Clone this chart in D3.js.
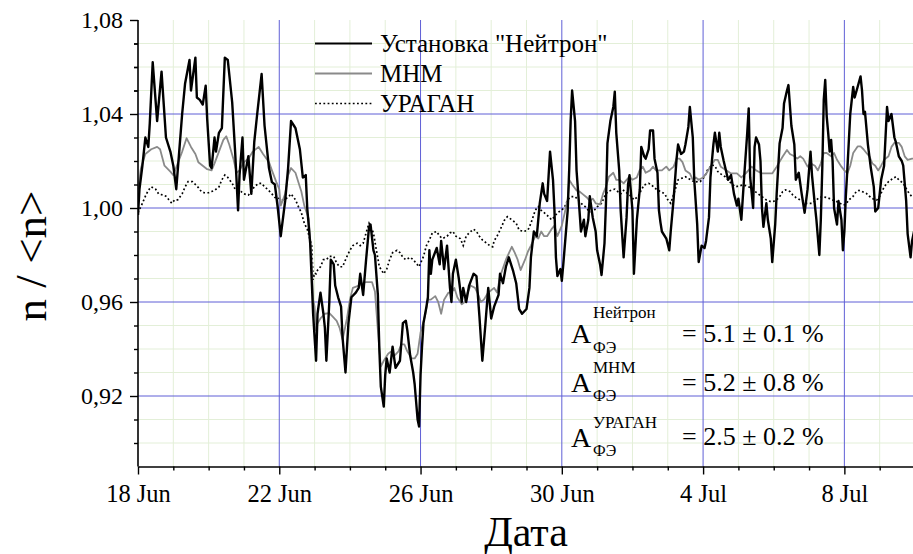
<!DOCTYPE html>
<html>
<head>
<meta charset="utf-8">
<script src="https://cdn.jsdelivr.net/npm/d3@7"></script>
<style>
  body { margin: 0; background: #fff; }
  svg { display: block; }
  text { font-family: "Liberation Serif", "Times New Roman", serif; fill: #000; }
</style>
</head>
<body>
<svg id="chart" width="913" height="554"></svg>
<script>
// Relative count rate n/<n>; each point is [hours since 18 Jun 00:00 UT, value]
const neutron = [
  [0,0.997],[1,1.008],[3,1.018],[5,1.030],[7,1.026],[8,1.036],[10,1.062],[13,1.037],[16,1.058],[19,1.030],
  [22,1.024],[24,1.018],[26,1.008],[28,1.024],[30,1.040],[32,1.053],[35,1.063],[36,1.050],[39,1.064],[40,1.047],
  [42,1.046],[44,1.044],[46,1.052],[47,1.038],[49,1.018],[50,1.017],[52,1.030],[53,1.024],[55,1.032],[57,1.034],
  [59,1.064],[61,1.063],[64,1.045],[66,1.024],[68,0.999],[69,1.014],[71,1.030],[72,1.012],[75,1.022],[77,1.006],
  [79,1.028],[81,1.040],[84,1.057],[86,1.035],[89,1.017],[91,1.011],[93,1.010],[95,1.000],[97,0.988],[100,1.003],
  [102,1.017],[104,1.037],[106,1.035],[107,1.034],[110,1.025],[112,1.013],[114,1.014],[115,1.000],[117,0.985],[119,0.955],
  [121,0.935],[122,0.955],[124,0.964],[126,0.955],[127,0.949],[128,0.935],[130,0.960],[131,0.978],[133,0.976],[134,0.967],
  [136,0.962],[138,0.958],[139,0.945],[141,0.930],[143,0.951],[145,0.962],[148,0.964],[150,0.966],[151,0.972],[153,0.963],
  [155,0.978],[157,0.992],[158,0.993],[160,0.982],[161,0.980],[163,0.963],[164,0.940],[165,0.924],[167,0.9155],[168,0.929],
  [169,0.936],[171,0.930],[173,0.941],[175,0.932],[178,0.935],[180,0.951],[182,0.952],[183,0.948],[185,0.937],[187,0.930],
  [188,0.925],[190,0.910],[191,0.907],[192,0.929],[193,0.941],[194,0.951],[196,0.958],[197,0.962],[198,0.982],[199,0.972],
  [200,0.978],[203,0.983],[205,0.976],[206,0.986],[208,0.974],[210,0.984],[212,0.966],[213,0.960],[214,0.972],[216,0.978],
  [218,0.970],[220,0.960],[221,0.966],[223,0.960],[225,0.967],[228,0.972],[230,0.971],[232,0.954],[234,0.935],[236,0.950],
  [238,0.966],[240,0.953],[242,0.958],[245,0.963],[246,0.972],[248,0.968],[250,0.975],[252,0.979],[255,0.973],[257,0.968],
  [259,0.957],[261,0.955],[264,0.957],[266,0.966],[267,0.979],[269,0.990],[271,0.988],[273,1.002],[275,1.0105],[276,1.006],
  [278,1.003],[280,1.024],[282,1.012],[283,0.999],[284,0.979],[285,0.971],[287,0.974],[288,0.969],[289,0.976],[292,0.999],
  [293,1.016],[294,1.037],[295,1.050],[297,1.037],[298,1.016],[300,0.999],[301,0.990],[303,0.995],[304,0.988],[306,0.995],
  [307,1.005],[309,0.996],[311,0.990],[312,0.982],[314,0.976],[315,0.9715],[317,0.985],[318,1.002],[319,1.0275],[321,1.037],
  [323,1.043],[324,1.0495],[325,1.032],[327,1.016],[328,0.999],[330,0.979],[332,0.996],[333,1.010],[334,1.014],[336,0.999],
  [337,0.972],[339,0.995],[341,1.008],[342,1.026],[344,1.022],[345,1.021],[347,1.025],[348,1.033],[350,1.033],[351,1.021],
  [353,1.015],[354,0.999],[355,0.994],[356,0.990],[359,0.987],[361,0.982],[362,0.990],[364,1.004],[366,1.021],[367,1.027],
  [369,1.023],[371,1.024],[372,1.027],[374,1.0345],[375,1.043],[377,1.030],[378,1.012],[380,0.993],[381,0.977],[383,0.984],
  [385,0.983],[386,0.986],[388,0.996],[389,1.013],[391,1.027],[392,1.032],[394,1.024],[395,1.032],[396,1.026],[398,1.020],
  [401,1.012],[403,1.014],[405,1.006],[407,1.001],[408,1.004],[410,0.995],[412,1.014],[414,1.032],[415,1.0424],[416,1.013],
  [418,1.000],[419,1.026],[420,1.030],[422,1.027],[423,1.020],[424,1.000],[425,0.992],[427,1.002],[428,0.995],[430,0.987],
  [431,0.977],[433,0.993],[434,1.006],[436,1.0275],[438,1.034],[439,1.0445],[441,1.050],[442,1.0523],[444,1.035],[446,1.027],
  [447,1.012],[449,1.015],[451,1.006],[453,0.998],[455,1.008],[457,1.024],[458,1.014],[460,1.001],[461,0.995],[463,0.980],
  [464,0.995],[465,1.017],[466,1.046],[467,1.0545],[468,1.039],[469,1.032],[470,1.024],[471,1.029],[472,1.020],[473,1.000],
  [475,0.993],[476,1.003],[478,0.995],[479,0.982],[480,0.990],[481,1.005],[482,1.016],[484,1.040],[486,1.0515],[487,1.047],
  [489,1.0515],[491,1.056],[492,1.050],[493,1.040],[494,1.041],[496,1.027],[498,1.017],[500,1.009],[501,0.9985],[503,1.000],
  [505,1.012],[507,1.018],[509,1.043],[510,1.037],[512,1.040],[514,1.030],[515,1.028],[517,1.022],[519,1.020],[520,1.018],
  [522,1.003],[523,0.989],[525,0.979],[526,0.986],[528,0.992]
];

const mnm = [
  [0,1.008],[2,1.017],[5,1.023],[9,1.025],[13,1.026],[15,1.025],[18,1.018],[22,1.0155],[24,1.014],[27,1.019],
  [30,1.024],[33,1.0297],[36,1.026],[39,1.023],[41,1.0195],[44,1.018],[47,1.0165],[50,1.016],[52,1.019],[55,1.024],
  [58,1.029],[60,1.0305],[62,1.027],[65,1.0205],[67,1.015],[69,1.016],[72,1.0195],[75,1.021],[78,1.024],[82,1.026],
  [85,1.023],[89,1.0195],[91,1.016],[94,1.011],[96,1.008],[97,1.001],[100,1.006],[102,1.014],[104,1.017],[107,1.015],
  [109,1.011],[111,1.007],[113,1.001],[116,0.9955],[118,0.978],[119,0.961],[120,0.958],[121,0.948],[122,0.951],[124,0.953],
  [127,0.955],[130,0.9553],[132,0.954],[135,0.952],[137,0.949],[139,0.944],[142,0.953],[144,0.961],[146,0.966],[150,0.967],
  [153,0.968],[155,0.9685],[159,0.9685],[161,0.9645],[163,0.948],[165,0.9325],[167,0.935],[170,0.938],[172,0.939],[174,0.937],
  [177,0.939],[179,0.942],[181,0.942],[183,0.939],[186,0.936],[188,0.936],[190,0.938],[192,0.947],[195,0.954],[197,0.961],
  [199,0.961],[202,0.9625],[204,0.960],[206,0.955],[208,0.961],[211,0.964],[213,0.964],[215,0.966],[217,0.962],[220,0.959],
  [222,0.960],[224,0.964],[226,0.967],[229,0.966],[231,0.9635],[233,0.960],[235,0.961],[238,0.964],[240,0.965],[242,0.966],
  [244,0.964],[246,0.9708],[250,0.978],[254,0.9835],[256,0.981],[258,0.978],[260,0.9736],[263,0.978],[265,0.9815],[267,0.984],
  [270,0.988],[272,0.987],[274,0.990],[276,0.988],[278,0.988],[281,0.991],[283,0.9925],[285,0.988],[288,0.9925],[290,0.998],
  [292,1.004],[293,1.012],[295,1.010],[298,1.0075],[300,1.007],[302,1.006],[305,1.0045],[307,1.003],[309,1.004],[311,1.002],
  [314,1.0015],[316,1.006],[318,1.009],[320,1.0133],[323,1.015],[325,1.012],[327,1.012],[330,1.0105],[332,1.012],[334,1.0133],
  [336,1.012],[339,1.013],[341,1.0162],[343,1.0176],[345,1.015],[348,1.016],[350,1.0176],[352,1.016],[354,1.016],[356,1.016],
  [359,1.0176],[361,1.016],[364,1.0176],[366,1.021],[368,1.021],[370,1.0195],[372,1.016],[375,1.0147],[377,1.012],[379,1.013],
  [381,1.012],[384,1.013],[386,1.0145],[389,1.0176],[392,1.0205],[394,1.0205],[396,1.0176],[400,1.016],[403,1.0147],[407,1.0147],
  [410,1.013],[413,1.0147],[417,1.0176],[420,1.016],[424,1.0147],[427,1.0147],[431,1.0147],[434,1.0176],[438,1.0218],[441,1.0247],
  [443,1.023],[446,1.022],[448,1.021],[450,1.022],[452,1.021],[455,1.0176],[457,1.019],[460,1.018],[462,1.016],[464,1.019],
  [466,1.0234],[468,1.0234],[471,1.022],[473,1.0234],[475,1.0205],[478,1.0176],[480,1.016],[482,1.0147],[484,1.018],[486,1.0234],
  [489,1.0262],[491,1.0262],[493,1.025],[495,1.0234],[497,1.022],[499,1.019],[501,1.018],[503,1.016],[505,1.018],[507,1.0205],
  [510,1.022],[512,1.026],[514,1.0277],[517,1.0277],[519,1.026],[521,1.022],[523,1.0205],[526,1.021],[528,1.021]
];

const uragan = [
  [0,0.998],[3,1.002],[5,1.005],[7,1.0075],[9,1.009],[12,1.008],[14,1.006],[17,1.0055],[19,1.005],[21,1.0035],
  [23,1.002],[25,1.0035],[27,1.0035],[30,1.006],[32,1.009],[34,1.0112],[37,1.0112],[39,1.010],[41,1.0087],[43,1.007],
  [45,1.0065],[48,1.0065],[50,1.007],[52,1.0075],[55,1.009],[57,1.012],[59,1.014],[61,1.013],[64,1.0105],[66,1.008],
  [68,1.007],[70,1.007],[72,1.006],[75,1.0055],[77,1.007],[79,1.009],[82,1.0105],[84,1.0105],[86,1.009],[88,1.008],
  [91,1.006],[93,1.0045],[95,1.0045],[97,1.0035],[99,1.0035],[102,1.0045],[104,1.006],[107,1.0035],[109,1.0006],[111,0.998],
  [113,0.9935],[115,0.991],[118,0.984],[119,0.9694],[120,0.9723],[121,0.972],[122,0.9735],[124,0.975],[126,0.978],[128,0.978],
  [130,0.9794],[133,0.9794],[135,0.9765],[137,0.975],[139,0.975],[142,0.9794],[144,0.982],[146,0.984],[149,0.985],[151,0.984],
  [153,0.985],[155,0.9894],[157,0.9935],[160,0.9894],[162,0.982],[164,0.975],[167,0.972],[169,0.974],[171,0.978],[173,0.981],
  [176,0.982],[178,0.981],[180,0.979],[182,0.978],[185,0.979],[187,0.978],[189,0.9765],[191,0.975],[194,0.9794],[196,0.984],
  [198,0.9864],[200,0.9894],[203,0.990],[205,0.988],[207,0.987],[210,0.988],[212,0.9894],[214,0.990],[216,0.988],[219,0.987],
  [221,0.984],[223,0.988],[225,0.9894],[228,0.991],[230,0.990],[232,0.988],[234,0.9864],[237,0.985],[239,0.984],[241,0.9835],
  [242,0.986],[244,0.988],[246,0.9906],[249,0.9948],[251,0.9963],[254,0.995],[257,0.9935],[259,0.9906],[262,0.990],[265,0.9906],
  [267,0.9935],[270,0.9991],[272,1.0006],[274,0.999],[276,0.998],[279,0.9963],[281,0.995],[283,0.9963],[285,0.998],[288,0.9991],
  [290,1.0006],[292,1.0035],[294,1.0048],[297,1.0048],[299,1.0035],[301,1.002],[304,1.0005],[306,0.999],[308,0.9984],[310,0.999],
  [312,1.0005],[315,1.002],[317,1.0048],[319,1.0069],[322,1.0077],[324,1.008],[326,1.007],[328,1.006],[330,1.0075],[333,1.006],
  [335,1.005],[337,1.0035],[340,1.005],[342,1.0077],[344,1.0098],[347,1.0105],[349,1.0098],[351,1.0085],[353,1.0077],[355,1.007],
  [358,1.006],[360,1.0035],[362,1.002],[365,1.0077],[367,1.012],[369,1.0125],[372,1.0133],[374,1.0125],[376,1.012],[378,1.011],
  [380,1.0112],[382,1.0112],[385,1.0133],[387,1.0162],[390,1.0183],[392,1.018],[394,1.0155],[396,1.0145],[399,1.0133],[402,1.0112],
  [404,1.010],[406,1.009],[409,1.0095],[411,1.0098],[413,1.0095],[415,1.009],[418,1.0077],[421,1.0062],[424,1.0048],[427,1.0034],
  [430,1.0027],[433,1.003],[436,1.0048],[438,1.0069],[440,1.0077],[443,1.007],[445,1.0055],[447,1.0045],[450,1.0034],[452,1.003],
  [454,1.002],[458,1.002],[461,1.0034],[463,1.0045],[465,1.0048],[468,1.0045],[470,1.004],[472,1.0034],[474,1.003],[477,1.002],
  [479,1.0013],[481,1.0015],[483,1.0034],[486,1.005],[488,1.0069],[490,1.0075],[492,1.007],[495,1.0062],[497,1.005],[499,1.004],
  [502,1.0034],[504,1.005],[506,1.0077],[508,1.0098],[510,1.0112],[513,1.0126],[515,1.0133],[517,1.012],[520,1.0105],[522,1.0083],
  [524,1.0062],[526,1.0048],[528,1.0045]
];

const yTickValues = [0.92, 0.96, 1.00, 1.04, 1.08];
const xTickLabels = ["2009-06-18", "2009-06-22", "2009-06-26", "2009-06-30", "2009-07-04", "2009-07-08"];
const legendLabels = ['Установка "Нейтрон"', "МНМ", "УРАГАН"];
const amplitudeNames = ["Нейтрон", "МНМ", "УРАГАН"];
const amplitudeValues = [5.1, 5.2, 2.5];
const amplitudeErrors = [0.1, 0.8, 0.2];

const startDate = new Date(Date.UTC(2009, 5, 18));
const endDate = new Date(Date.UTC(2009, 6, 10));
const toDate = h => new Date(startDate.getTime() + h * 3600e3);
const parseDay = d3.utcParse("%Y-%m-%d");
const serif = '"Liberation Serif", "Times New Roman", serif';

const svg = d3.select("#chart");
const plotLeft = 138, plotTop = 20, plotBottom = 466.5, plotRight = 915, W = 913;

const x = d3.scaleUtc().domain([startDate, endDate]).range([plotLeft, plotRight]);
const y = d3.scaleLinear().domain([0.89, 1.08]).range([plotBottom, plotTop]);

svg.append("rect").attr("width", W).attr("height", 554).attr("fill", "#fff");

// minor grid: every day / every 0.01
const minorDays = d3.utcDay.range(startDate, endDate).filter(d => (d3.utcDay.count(startDate, d) % 4) !== 0);
const minorVals = d3.range(90, 108).map(v => v / 100).filter(v => Math.round(v * 100) % 4 !== 0);
const grid = svg.append("g");
grid.selectAll(".mgx").data(minorDays).join("line")
  .attr("x1", d => x(d)).attr("x2", d => x(d)).attr("y1", plotTop).attr("y2", plotBottom)
  .attr("stroke", "#e3efd8").attr("stroke-width", 1);
grid.selectAll(".mgy").data(minorVals).join("line")
  .attr("x1", plotLeft).attr("x2", W).attr("y1", d => y(d)).attr("y2", d => y(d))
  .attr("stroke", "#e3efd8").attr("stroke-width", 1);

// major grid
const majorDays = xTickLabels.map(parseDay).slice(1);
grid.selectAll(".Mgx").data(majorDays).join("line")
  .attr("x1", d => x(d)).attr("x2", d => x(d)).attr("y1", plotTop).attr("y2", plotBottom)
  .attr("stroke", "#5f5fd6").attr("stroke-width", 1);
grid.selectAll(".Mgy").data(yTickValues.filter(v => v < 1.08)).join("line")
  .attr("x1", plotLeft).attr("x2", W).attr("y1", d => y(d)).attr("y2", d => y(d))
  .attr("stroke", "#5f5fd6").attr("stroke-width", 1);

// series
svg.append("clipPath").attr("id", "plotClip").append("rect")
  .attr("x", plotLeft).attr("y", 0).attr("width", W - plotLeft).attr("height", plotBottom);
const line = d3.line().x(d => x(toDate(d[0]))).y(d => y(d[1]));
const plot = svg.append("g").attr("clip-path", "url(#plotClip)");
plot.append("path").datum(uragan).attr("d", line).attr("fill", "none")
  .attr("stroke", "#000").attr("stroke-width", 1.7).attr("stroke-dasharray", "1.8,2.4");
plot.append("path").datum(mnm).attr("d", line).attr("fill", "none")
  .attr("stroke", "#8a8a8a").attr("stroke-width", 1.8).attr("stroke-linejoin", "round");
plot.append("path").datum(neutron).attr("d", line).attr("fill", "none")
  .attr("stroke", "#000").attr("stroke-width", 2.4).attr("stroke-linejoin", "round");

// axes
const yAxis = svg.append("g").attr("transform", `translate(${plotLeft},0)`)
  .call(d3.axisLeft(y).tickValues(yTickValues).tickSize(8).tickSizeOuter(0).tickPadding(7)
    .tickFormat(d => d.toFixed(2).replace(".", ",")));
yAxis.selectAll("text").style("font-family", serif).style("font-size", "24px");
yAxis.select(".domain").attr("stroke-width", 1.6).attr("d", `M0,${plotBottom}V${plotTop}`);
yAxis.selectAll(".tick line").attr("stroke-width", 1.4);
svg.append("g").attr("transform", `translate(${plotLeft},0)`)
  .call(d3.axisLeft(y).tickValues(minorVals.concat([1.05, 1.06, 1.07])).tickSize(4).tickFormat(""))
  .call(g => g.select(".domain").remove())
  .selectAll(".tick line").attr("stroke-width", 1.4);

const xAxis = svg.append("g").attr("transform", `translate(0,${plotBottom})`)
  .call(d3.axisBottom(x).tickValues(xTickLabels.map(parseDay)).tickSize(8).tickSizeOuter(0).tickPadding(10)
    .tickFormat(d3.utcFormat("%-d %b")));
xAxis.selectAll("text").style("font-family", serif).style("font-size", "24.5px");
xAxis.select(".domain").attr("stroke-width", 1.6);
xAxis.selectAll(".tick line").attr("stroke-width", 1.4);
svg.append("g").attr("transform", `translate(0,${plotBottom})`)
  .call(d3.axisBottom(x).tickValues(minorDays).tickSize(4).tickFormat(""))
  .call(g => g.select(".domain").remove())
  .selectAll(".tick line").attr("stroke-width", 1.4);

// axis titles
svg.append("text").attr("transform", "translate(46,256) rotate(-90)")
  .attr("text-anchor", "middle").style("font-size", "45px").text("n / <n>");
svg.append("text").attr("x", 526).attr("y", 546)
  .attr("text-anchor", "middle").style("font-size", "42px").text("Дата");

// legend
const legendStyles = [
  { stroke: "#000", width: 2.2, dash: null },
  { stroke: "#8a8a8a", width: 1.8, dash: null },
  { stroke: "#000", width: 1.7, dash: "1.8,2.4" }
];
const legend = svg.append("g");
legendLabels.forEach((label, i) => {
  const by = 52 + i * 30;
  legend.append("line").attr("x1", 315).attr("x2", 372).attr("y1", by - 8.5).attr("y2", by - 8.5)
    .attr("stroke", legendStyles[i].stroke).attr("stroke-width", legendStyles[i].width)
    .attr("stroke-dasharray", legendStyles[i].dash);
  legend.append("text").attr("x", 380).attr("y", by).style("font-size", "25px").text(label);
});

// amplitude annotations
const rows = [
  { a: 343, sup: 318, sub: 353, eq: 342 },
  { a: 392, sup: 373, sub: 401, eq: 391 },
  { a: 447, sup: 428, sub: 456, eq: 445 }
];
const ann = svg.append("g");
amplitudeNames.forEach((name, i) => {
  const r = rows[i];
  ann.append("text").attr("x", 571).attr("y", r.a).style("font-size", "28px").text("A");
  ann.append("text").attr("x", 593).attr("y", r.sup).style("font-size", "17px").text(name);
  ann.append("text").attr("x", 593).attr("y", r.sub).style("font-size", "16px").text("ФЭ");
  ann.append("text").attr("x", 682).attr("y", r.eq).style("font-size", "26px")
    .text(`= ${amplitudeValues[i].toFixed(1)} ± ${amplitudeErrors[i].toFixed(1)} %`);
});
</script>
</body>
</html>
